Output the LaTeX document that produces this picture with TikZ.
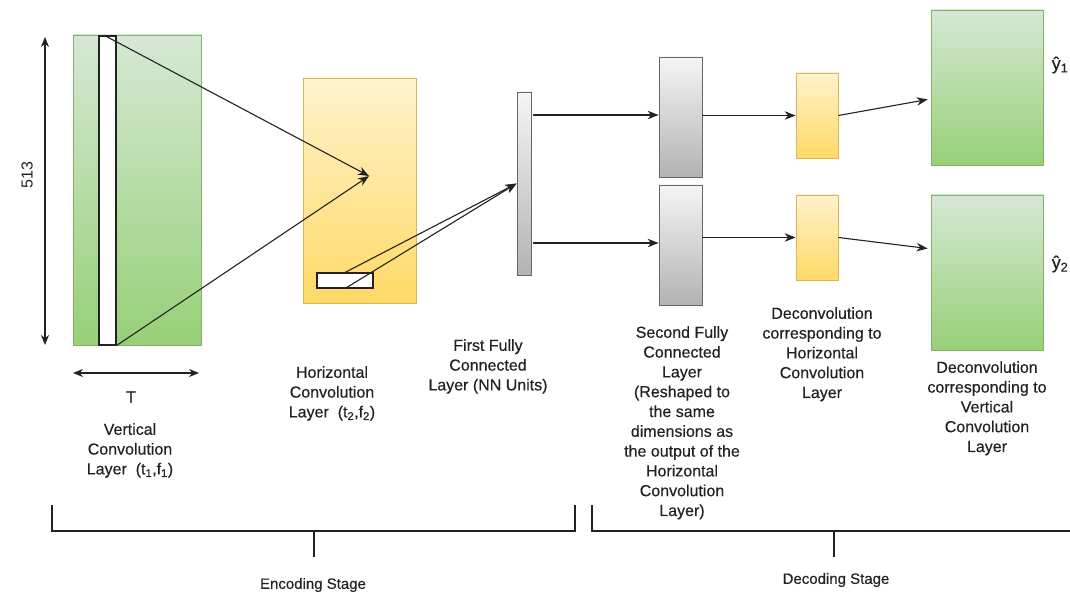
\documentclass[tikz,border=0pt]{standalone}
\usepackage{fontspec}
\setmainfont{Liberation Sans}
\newfontfamily\medsans{Liberation Sans}[FakeBold=0.35]
\usetikzlibrary{arrows.meta}
\definecolor{gtop}{HTML}{D5E8D4}
\definecolor{gbot}{HTML}{97D077}
\definecolor{gline}{HTML}{82B366}
\definecolor{ytop}{HTML}{FFF2CC}
\definecolor{ybot}{HTML}{FFD966}
\definecolor{yline}{HTML}{D6B656}
\definecolor{ktop}{HTML}{F5F5F5}
\definecolor{kbot}{HTML}{B3B3B3}
\definecolor{kline}{HTML}{666666}
\definecolor{ink}{HTML}{222222}
\begin{document}
\begin{tikzpicture}[x=1pt,y=-1pt,
  box/.style={rectangle,inner sep=0pt,line width=0.8pt},
  greenbox/.style={box,draw=gline,top color=gtop,bottom color=gbot},
  yellowbox/.style={box,draw=yline,top color=ytop,bottom color=ybot},
  graybox/.style={box,draw=kline,top color=ktop,bottom color=kbot},
  whitebox/.style={box,draw=ink,fill=white,line width=1.1pt},
  conn/.style={draw=ink,line width=1.1pt,-{Stealth[length=11pt,width=8.5pt]}},
  dimarrow/.style={draw=ink,line width=1.2pt,{Stealth[length=10pt,width=8pt]}-{Stealth[length=10pt,width=8pt]}},
  bracket/.style={draw=ink,line width=1.8pt},
  lbl/.style={align=center,inner sep=0pt,anchor=north,text=ink,font=\medsans\fontsize{16}{19.8}\selectfont},
  stage/.style={inner sep=0pt,text=ink,font=\medsans\fontsize{15}{18}\selectfont}]
\useasboundingbox[fill=white] (0,0) rectangle (1070,596);

% encoder blocks
\node[greenbox,minimum width=128pt,minimum height=310pt] (g1) at (137,190) {};
\node[whitebox,minimum width=17pt,minimum height=309pt] (strip) at (107.5,190.5) {};
\node[yellowbox,minimum width=113pt,minimum height=225pt] (y1) at (359.5,190.5) {};
\node[whitebox,minimum width=56pt,minimum height=15pt] (small) at (345,280.5) {};
\node[graybox,minimum width=14pt,minimum height=183pt] (fc1) at (524,183.5) {};

% decoder blocks
\node[graybox,minimum width=43pt,minimum height=120pt] (fc2a) at (680.5,117) {};
\node[graybox,minimum width=43pt,minimum height=120pt] (fc2b) at (680.5,245) {};
\node[yellowbox,minimum width=42pt,minimum height=85pt] (dy1) at (817,115.5) {};
\node[yellowbox,minimum width=42pt,minimum height=85pt] (dy2) at (817,237.5) {};
\node[greenbox,minimum width=112pt,minimum height=155pt] (g2a) at (987,87.5) {};
\node[greenbox,minimum width=112pt,minimum height=155pt] (g2b) at (987,272.5) {};

% connectors
\coordinate (conv) at (369,176);
\draw[conn] ([xshift=-3pt]strip.north) -- (conv);
\draw[conn] (strip.south east) -- (conv);
\draw[conn] (small.north) -- (fc1.west);
\draw[conn] (small.south) -- (fc1.west);
\draw[conn] ([xshift=2pt,yshift=2pt]fc1.east |- fc2a.west) -- ([yshift=2pt]fc2a.west);
\draw[conn] ([xshift=2pt,yshift=2pt]fc1.east |- fc2b.west) -- ([yshift=2pt]fc2b.west);
\draw[conn] (fc2a.east |- dy1.west) -- (dy1.west);
\draw[conn] (fc2b.east |- dy2.west) -- (dy2.west);
\draw[conn] (dy1.east) -- ([xshift=-3pt,yshift=-12pt]g2a.west);
\draw[conn] (dy2.east) -- ([xshift=-3pt,yshift=24pt]g2b.west);

% dimension arrows
\coordinate (d513a) at (45,37);
\coordinate (d513b) at (45,345);
\draw[dimarrow] (d513a) -- (d513b);
\node[inner sep=0pt,rotate=90,text=ink,font=\fontsize{16}{19}\selectfont] (n513) at (27,175) {513};
\coordinate (dTa) at (73,373);
\coordinate (dTb) at (199,373);
\draw[dimarrow] (dTa) -- (dTb);
\node[lbl,anchor=center] (tT) at (131,397) {T};

% labels
\node[lbl] (lv) at (130,423) {Vertical\\Convolution\\Layer~ (t\textsubscript{1},f\textsubscript{1})};
\node[lbl] (lh) at (332,366) {Horizontal\\Convolution\\Layer~ (t\textsubscript{2},f\textsubscript{2})};
\node[lbl] (lf) at (488,339) {First Fully\\Connected\\Layer (NN Units)};
\node[lbl] (ls) at (682,326) {Second Fully\\Connected\\Layer\\(Reshaped to\\the same\\dimensions as\\the output of the\\Horizontal\\Convolution\\Layer)};
\node[lbl] (ldh) at (822,307) {Deconvolution\\corresponding to\\Horizontal\\Convolution\\Layer};
\node[lbl] (ldv) at (987,361) {Deconvolution\\corresponding to\\Vertical\\Convolution\\Layer};
\node[lbl,anchor=center,font=\medsans\fontsize{18}{20}\selectfont] (yh1) at (1060,65) {ŷ\textsubscript{1}};
\node[lbl,anchor=center,font=\medsans\fontsize{18}{20}\selectfont] (yh2) at (1060,264) {ŷ\textsubscript{2}};

% stage brackets
\draw[bracket] (52,505) -- (52,531) -- (575,531) -- (575,505);
\draw[bracket] (314,531) -- (314,557);
\draw[bracket] (592,505) -- (592,531) -- (1070,531);
\draw[bracket] (834,531) -- (834,557);
\node[stage] (enc) at (313,585) {Encoding Stage};
\node[stage] (dec) at (836,580) {Decoding Stage};
\end{tikzpicture}
\end{document}
